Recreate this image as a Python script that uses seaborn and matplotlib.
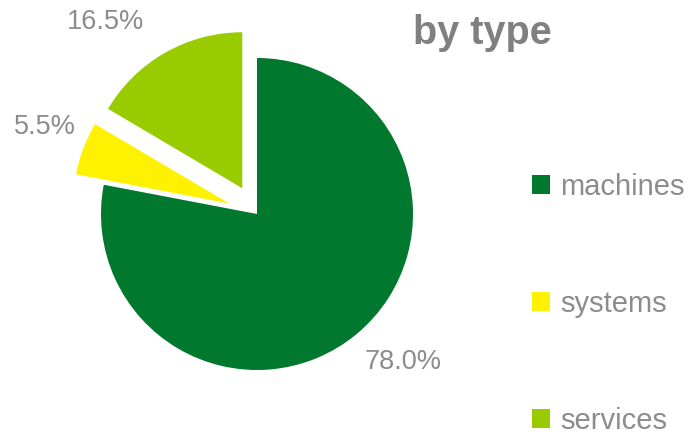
import matplotlib
matplotlib.use("Agg")
import matplotlib.pyplot as plt
import seaborn as sns

sns.set_theme(style="white")
plt.rcParams["font.family"] = ["Liberation Sans", "DejaVu Sans"]

categories = ["machines", "systems", "services"]
shares = [78.0, 5.5, 16.5]
colors = ["#00782D", "#FFF200", "#99CC00"]
explode = [0.0, 0.19, 0.19]

TEXT_GREY = "#8C8C8C"

fig = plt.figure(figsize=(6.96, 4.38), dpi=100)
W, H = 696, 438
cx, cy, r_px, half = 257, 214, 156, 200
ax = fig.add_axes([(cx - half) / W, (H - cy - half) / H, 2 * half / W, 2 * half / H])

wedges, _ = ax.pie(shares, colors=colors, explode=explode, startangle=90,
                   counterclock=False, radius=1.0,
                   wedgeprops=dict(linewidth=0))
lim = half / r_px
ax.set_xlim(-lim, lim)
ax.set_ylim(-lim, lim)
ax.set_aspect("equal")
ax.axis("off")

# percentage labels outside each slice
label_pos = {"machines": (0.936, -0.949), "systems": (-1.359, 0.558), "services": (-0.974, 1.23)}
for cat, val in zip(categories, shares):
    x, y = label_pos[cat]
    ax.text(x, y, f"{val:.1f}%", ha="center", va="center", fontsize=19.5,
            color=TEXT_GREY, clip_on=False)

fig.text(482 / W, 1 - 33 / H, "by type", ha="center", va="center",
         fontsize=28.5, fontweight="bold", color="#808080")

leg = fig.legend(wedges, categories, loc="center left",
                 bbox_to_anchor=(506 / W, 1 - 304 / H), frameon=False,
                 fontsize=21, labelcolor=TEXT_GREY, handlelength=0.6,
                 handleheight=0.6, handletextpad=0.35, labelspacing=3.05)

fig.savefig("out.png", dpi=100)
